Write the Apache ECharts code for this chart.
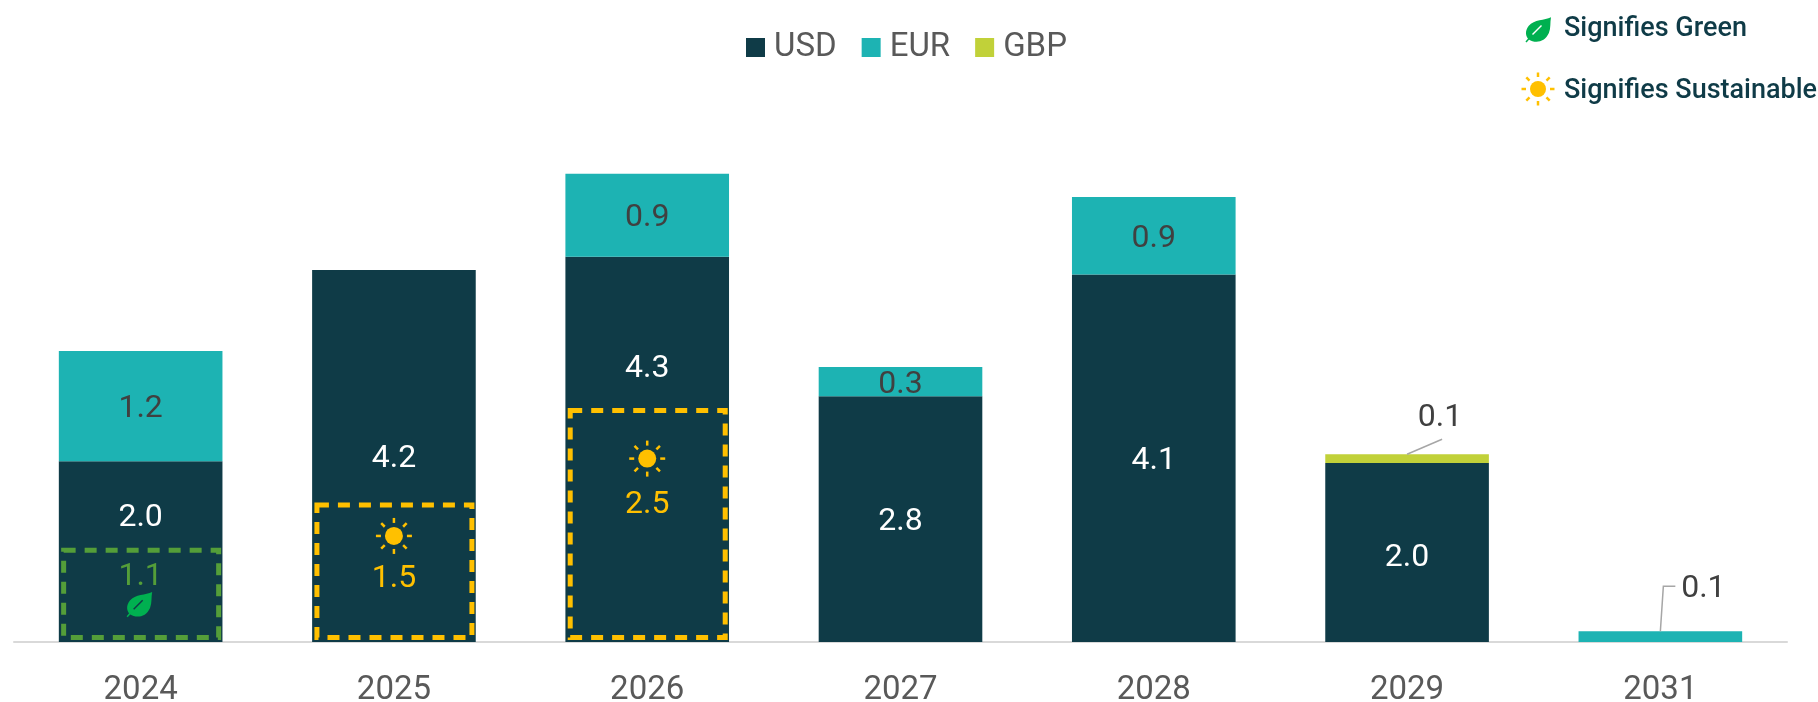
<!DOCTYPE html>
<html>
<head>
<meta charset="utf-8">
<title>Debt maturity</title>
<script src="https://cdn.jsdelivr.net/npm/echarts@6/dist/echarts.min.js"></script>
<style>
  html, body { margin: 0; padding: 0; background: #fff; }
  #chart { width: 1818px; height: 702px; }
</style>
</head>
<body>
<div id="chart"></div>
<script>
const years = ['2024', '2025', '2026', '2027', '2028', '2029', '2031'];
const usd = [2.03, 4.18, 4.33, 2.76, 4.13, 2.01, null];
const eur = [1.24, null, 0.93, 0.33, 0.87, null, 0.12];
const gbp = [null, null, null, null, null, 0.1, null];

// dashed boxes inside the USD bars: category index, height on the axis, printed figure
const boxIndex = [0, 1, 2];
const boxHeight = [1.03, 1.54, 2.6];
const boxLabel = ['1.1', '1.5', '2.5'];
const boxKind = ['green', 'sustainable', 'sustainable'];

// bars too thin to hold their figure
const calloutIndex = [5, 6];

const DARK = '#0f3b47', TEAL = '#1db3b3', LIME = '#c1d139';
const GREEN = '#549e39', LEAF = '#00b050', SUN = '#ffc000';
const FONT = 'Roboto';
const LABEL_SIZE = 32;

const leafPath = 'M25 0C19 3 9 2 4 8C0 13 1 18 4 21C10 25 19 24 23 15C25 10 24 5 25 0Z';

const usdNudge = {0: [0, -34], 2: [0, -80], 5: [0, 5]};
const boxText = [
  {label: 27, icon: 54},
  {label: 74, icon: 31},
  {label: 94, icon: 48}
];

function leaf(cx, cy, gapColor) {
  return [
    {type: 'path', shape: {pathData: leafPath, x: cx - 12.5, y: cy - 12.5, width: 25, height: 25},
      style: {fill: LEAF}},
    {type: 'line', shape: {x1: cx - 12.5, y1: cy + 12.5, x2: cx - 6, y2: cy + 5},
      style: {stroke: LEAF, lineWidth: 1.5}},
    {type: 'line', shape: {x1: cx - 6, y1: cy + 5, x2: cx + 3, y2: cy - 4},
      style: {stroke: gapColor, lineWidth: 1.5}}
  ];
}

function sun(cx, cy, r, inner, outer) {
  let parts = [{type: 'circle', shape: {cx: cx, cy: cy, r: r}, style: {fill: SUN}}];
  for (let i = 0; i < 8; i++) {
    let a = i * Math.PI / 4;
    parts.push({
      type: 'line',
      shape: {
        x1: cx + Math.cos(a) * inner, y1: cy + Math.sin(a) * inner,
        x2: cx + Math.cos(a) * outer, y2: cy + Math.sin(a) * outer
      },
      style: {stroke: SUN, lineWidth: 2.5}
    });
  }
  return parts;
}

function label(text, x, y, color) {
  return {
    type: 'text',
    style: {
      text: text, x: x, y: y, fill: color,
      align: 'center', verticalAlign: 'middle',
      textAlign: 'center', textVerticalAlign: 'middle',
      fontFamily: FONT, fontSize: LABEL_SIZE
    }
  };
}

function renderBox(params, api) {
  let i = params.dataIndex;
  let base = api.coord([api.value(0), 0]);
  let top = api.coord([api.value(0), api.value(1)]);
  let color = boxKind[i] === 'green' ? GREEN : SUN;
  let cx = base[0];
  let children = [{
    type: 'rect',
    shape: {x: cx - 77, y: top[1], width: 155, height: base[1] - top[1] - 4.5},
    style: {fill: 'none', stroke: color, lineWidth: 5, lineDash: [12, 9]}
  }];
  children.push(label(boxLabel[i], cx, top[1] + boxText[i].label, color));
  let iconY = top[1] + boxText[i].icon;
  children = children.concat(boxKind[i] === 'green'
    ? leaf(cx - 1, iconY, DARK)
    : sun(cx, iconY, 9, 13, 18));
  return {type: 'group', children: children};
}

function renderCallout(params, api) {
  let idx = api.value(0);
  let p = api.coord([idx, api.value(1)]);
  let pts, textX, textY;
  if (idx === 5) {
    pts = [[p[0], p[1]], [p[0] + 35, p[1] - 15]];
    textX = p[0] + 33;
    textY = p[1] - 36;
  } else {
    pts = [[p[0], p[1]], [p[0] + 3, p[1] - 45], [p[0] + 15, p[1] - 45]];
    textX = p[0] + 43;
    textY = p[1] - 42;
  }
  return {
    type: 'group',
    children: [
      {type: 'polyline', shape: {points: pts}, style: {stroke: '#a6a6a6', lineWidth: 1.5, fill: 'none'}},
      label(api.value(2), textX, textY, '#404040')
    ]
  };
}

// icon key in the top right corner
function renderKey() {
  return {
    type: 'group',
    children: [
      ...leaf(1538.5, 29.5, '#ffffff'),
      ...sun(1538, 89, 8, 12, 16.5),
      {type: 'text', style: {text: 'Signifies Green', x: 1564, y: 29, fill: DARK, font: '500 27px Roboto', verticalAlign: 'middle', textVerticalAlign: 'middle'}},
      {type: 'text', style: {text: 'Signifies Sustainable', x: 1564, y: 91, fill: DARK, font: '500 27px Roboto', verticalAlign: 'middle', textVerticalAlign: 'middle'}}
    ]
  };
}

const boxData = boxIndex.map((c, i) => [c, boxHeight[i]]);
const calloutData = calloutIndex.map(c => {
  let parts = [usd[c], eur[c], gbp[c]].filter(v => v !== null);
  let total = parts.reduce((a, b) => a + b, 0);
  return [c, total, parts[parts.length - 1].toFixed(1)];
});

const oneDecimal = p => p.value === null ? '' : Number(p.value).toFixed(1);

let myChart = echarts.init(document.getElementById('chart'));
myChart.setOption({
  animation: false,
  textStyle: {fontFamily: FONT},
  legend: {
    left: 741,
    top: 26,
    itemWidth: 19,
    itemHeight: 19,
    itemGap: 25,
    icon: 'rect',
    data: ['USD', 'EUR', 'GBP'],
    textStyle: {color: '#595959', fontSize: 33, fontFamily: FONT, padding: [0, 0, 0, 4]}
  },
  grid: {left: 14, right: 31, top: 108, bottom: 60, outerBoundsMode: 'none'},
  xAxis: {
    type: 'category',
    data: years,
    axisTick: {show: false},
    axisLine: {lineStyle: {color: '#d9d9d9', width: 2}},
    axisLabel: {color: '#595959', fontSize: 33, fontFamily: FONT, margin: 32}
  },
  yAxis: {type: 'value', min: 0, max: 6, show: false},
  series: [{
    name: 'USD',
    type: 'bar',
    stack: 'total',
    barWidth: '64.6%',
    itemStyle: {color: DARK},
    label: {show: true, position: 'inside', offset: [0, 3], color: '#fff', fontSize: LABEL_SIZE, fontFamily: FONT, formatter: oneDecimal},
    data: usd.map((v, i) => usdNudge[i] ? {value: v, label: {offset: usdNudge[i]}} : v)
  }, {
    name: 'EUR',
    type: 'bar',
    stack: 'total',
    itemStyle: {color: TEAL},
    label: {
      show: true, position: 'inside', offset: [0, 3], color: '#404040', fontSize: LABEL_SIZE, fontFamily: FONT,
      formatter: p => calloutIndex.includes(p.dataIndex) ? '' : oneDecimal(p)
    },
    data: eur
  }, {
    name: 'GBP',
    type: 'bar',
    stack: 'total',
    itemStyle: {color: LIME},
    data: gbp
  }, {
    type: 'custom',
    renderItem: renderBox,
    clip: false,
    z: 5,
    encode: {x: 0, y: 1},
    data: boxData
  }, {
    type: 'custom',
    renderItem: renderCallout,
    clip: false,
    z: 5,
    encode: {x: 0, y: 1},
    data: calloutData
  }, {
    type: 'custom',
    renderItem: renderKey,
    clip: false,
    silent: true,
    encode: {x: 0, y: 1},
    data: [[0, 0]]
  }]
});

window.addEventListener('resize', function() {
  myChart.resize();
});
</script>
</body>
</html>
